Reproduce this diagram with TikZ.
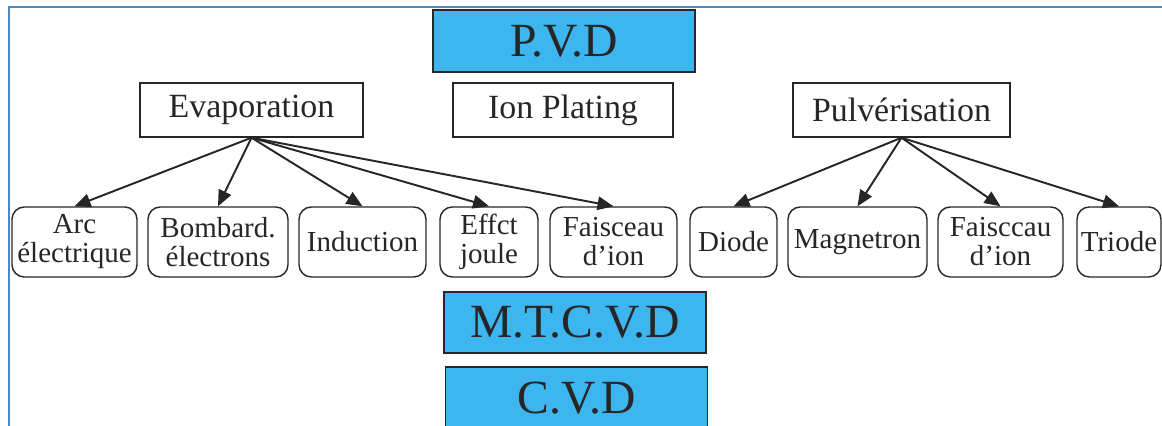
\documentclass[tikz,border=0pt]{standalone}
\usepackage{fontspec}
\setmainfont{Liberation Serif}
\usetikzlibrary{arrows.meta}
\definecolor{DepCyan}{HTML}{3DB5EE}
\definecolor{FrameBlue}{HTML}{4F86C6}
\definecolor{Ink}{HTML}{262626}

\begin{document}
\begin{tikzpicture}[x=1cm,y=1cm,>={Triangle[length=.32cm,width=.27cm]}]
  \tikzset{
    family/.style={draw=Ink,line width=.8pt,minimum height=1.08cm,inner sep=1pt,
      font=\fontsize{19.3}{21}\selectfont,text=Ink},
    method/.style={draw=Ink,rounded corners=7pt,line width=.8pt,minimum height=1.40cm,inner sep=1pt,
      align=center,font=\fontsize{16.5}{16.5}\selectfont,text=Ink},
    banner/.style={draw=Ink,fill=DepCyan,line width=.9pt,minimum width=5.24cm,minimum height=1.23cm,
      inner sep=0pt,font=\fontsize{27.1}{28}\selectfont,text=Ink},
    link/.style={->,Ink,line width=1.1pt}
  }
  \useasboundingbox (0,0) rectangle (23.24,8.52);
  \draw[FrameBlue,line width=1.1pt] (0.18,-0.5) rectangle (23.6,8.38);

  \node[banner] (pvd) at (11.28,7.70) {P.V.D};
  \node[banner] (mtcvd) at (11.50,2.07) {M.T.C.V.D};
  \node[banner] (cvd) at (11.53,0.56) {C.V.D};

  \node[family,minimum width=4.46cm] (evap) at (5.03,6.32) {Evaporation};
  \node[family,minimum width=4.40cm] (ionp) at (11.26,6.32) {Ion Plating};
  \node[family,minimum width=4.34cm] (pulv) at (18.03,6.32) {Pulvérisation};

  \node[method,minimum width=2.50cm] (arc) at (1.49,3.68) {Arc\\électrique};
  \node[method,minimum width=2.80cm] (bomb) at (4.36,3.68) {Bombard.\\électrons};
  \node[method,minimum width=2.54cm] (ind) at (7.25,3.68) {Induction};
  \node[method,minimum width=1.96cm] (joule) at (9.78,3.68) {Effct\\joule};
  \node[method,minimum width=2.54cm] (faisev) at (12.27,3.68) {Faisceau\\d’ion};
  \node[method,minimum width=1.74cm] (diode) at (14.67,3.68) {Diode};
  \node[method,minimum width=2.78cm] (magn) at (17.15,3.68) {Magnetron};
  \node[method,minimum width=2.50cm] (faispu) at (20.01,3.68) {Faisccau\\d’ion};
  \node[method,minimum width=1.68cm] (triode) at (22.38,3.68) {Triode};

  \draw[link] (evap.south) -- (arc.north);
  \draw[link] (evap.south) -- (bomb.north);
  \draw[link] (evap.south) -- (ind.north);
  \draw[link] (evap.south) -- (joule.north);
  \draw[link] (evap.south) -- (faisev.north);

  \draw[link] (pulv.south) -- (diode.north);
  \draw[link] (pulv.south) -- (magn.north);
  \draw[link] (pulv.south) -- (faispu.north);
  \draw[link] (pulv.south) -- (triode.north);
\end{tikzpicture}
\end{document}
